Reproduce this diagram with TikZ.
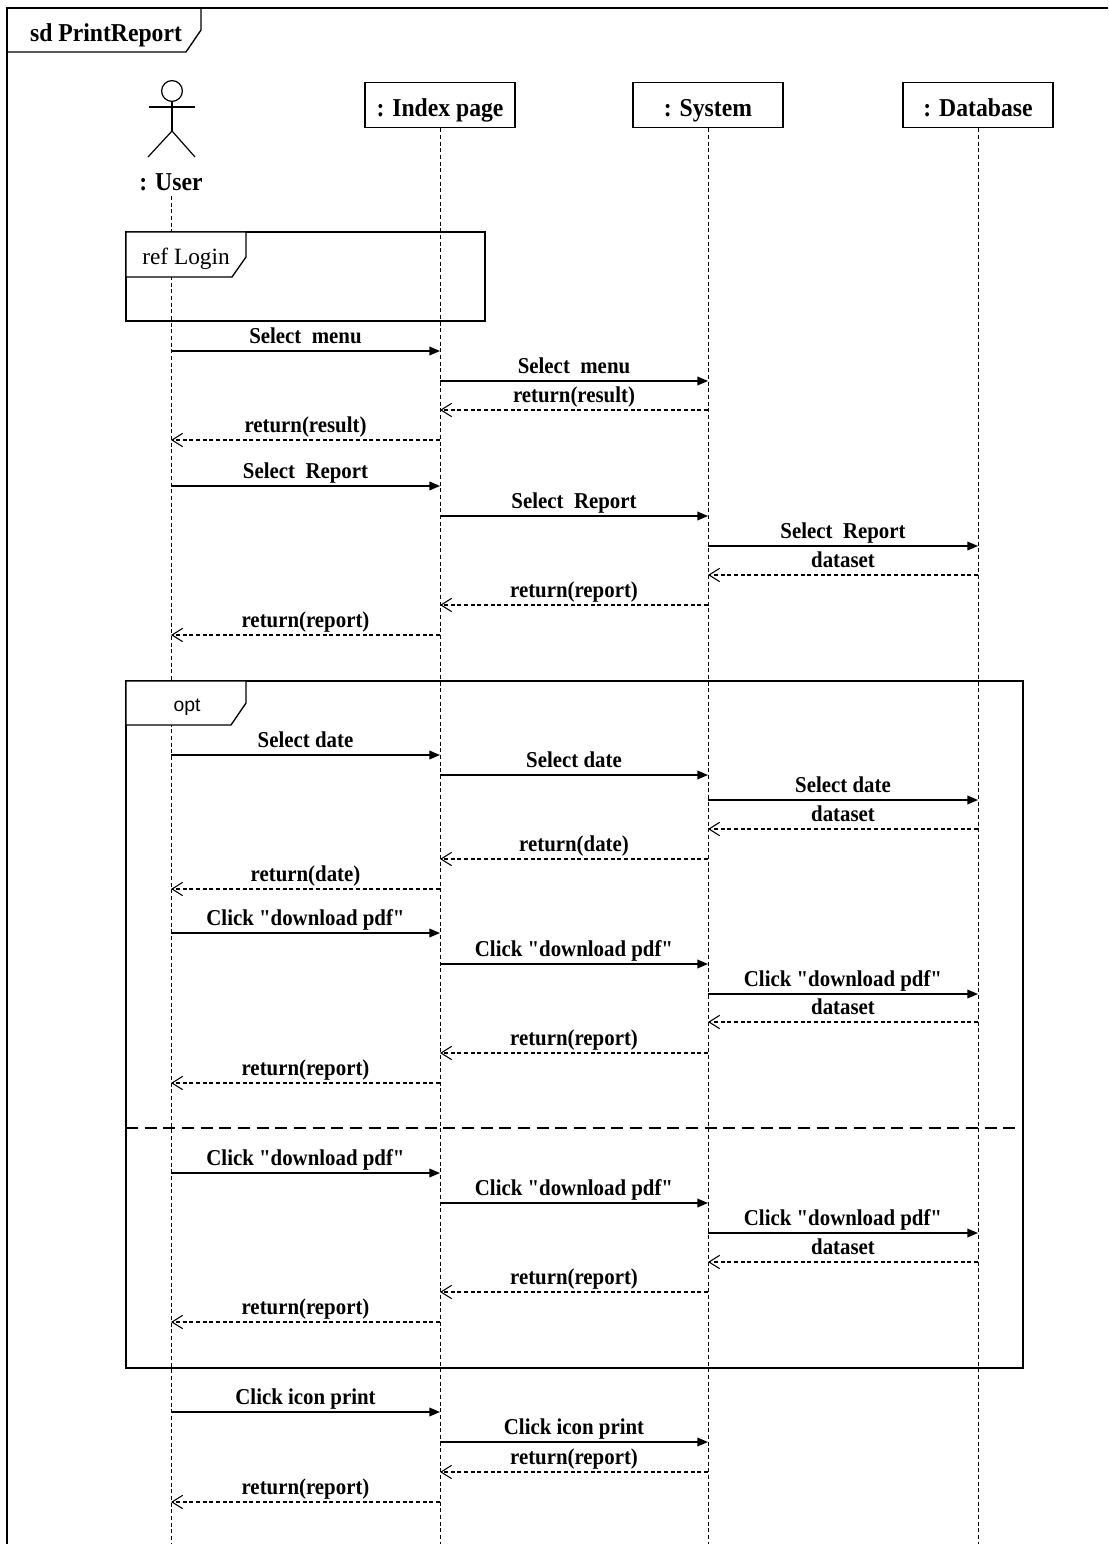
\documentclass[tikz,border=0pt]{standalone}
\usepackage{fontspec}
\setmainfont{Liberation Serif}[FakeStretch=0.92, Ligatures=TeXOff]
\newfontfamily\reffont{Liberation Serif}
\newfontfamily\optfont{Liberation Sans}
\usetikzlibrary{arrows.meta}

\tikzset{
  lifehead/.style={draw, line width=1.1pt, minimum width=112.5pt, minimum height=33.75pt,
    inner sep=0pt, text height=18pt, text depth=0pt, font=\fontsize{19.3}{21}\selectfont\bfseries},
  lifeline/.style={line width=0.7pt, dash pattern=on 3pt off 2pt},
  call/.style={line width=1.1pt, -{Triangle[length=8pt,width=6.5pt]}},
  reply/.style={line width=0.8pt, dash pattern=on 3pt off 2pt,
    -{Straight Barb[length=8pt,width=10pt,line width=0.8pt]}},
  msg/.style={above=1pt, inner sep=1pt, text height=11.5pt, text depth=3pt,
    font=\fontsize{17}{19}\selectfont\bfseries},
  frame/.style={line width=1pt},
}

\begin{document}
\begin{tikzpicture}[x=0.75pt, y=-0.75pt]
  \useasboundingbox (0,0) rectangle (1108,1544);

  % outer frame
  \draw [frame] (1108,8) -- (7,8) -- (7,1544);
  \draw [frame] (7,52) -- (186,52) -- (201,30) -- (201,8);
  \node [anchor=base, font=\fontsize{19.3}{21}\selectfont\bfseries] (title) at (106,42) {sd PrintReport};

  % actor
  \draw [line width=0.9pt] (172,91) circle [radius=7.8pt];
  \draw [line width=0.9pt] (172,101) -- (172,131);
  \draw [line width=0.9pt] (149,107) -- (195,107);
  \draw [line width=0.9pt] (148,157) -- (172,131) -- (195,157);
  \node [anchor=base, font=\fontsize{19.3}{21}\selectfont\bfseries] (user) at (171,191) {: User};

  % lifeline heads
  \node [lifehead] (index) at (440,105) {: Index page};
  \node [lifehead] (sys) at (708,105) {: System};
  \node [lifehead] (db) at (978,105) {: Database};

  \draw [lifeline] (user.south) -- (user |- 0,1544);
  \draw [lifeline] (index.south) -- (index |- 0,1544);
  \draw [lifeline] (sys.south) -- (sys |- 0,1544);
  \draw [lifeline] (db.south) -- (db |- 0,1544);

  % ref Login
  \draw [frame] (126,232) rectangle (485,321);
  \draw [frame, fill=white] (126,232) -- (246,232) -- (246,257) -- (232,277) -- (126,277) -- cycle;
  \node [anchor=base, font=\fontsize{17.5}{19}\reffont] (ref) at (186,265) {ref Login};

  % opt
  \draw [frame] (126,681) rectangle (1023,1368);
  \draw [frame, fill=white] (126,681) -- (246,681) -- (246,703) -- (231,725) -- (126,725) -- cycle;
  \node [anchor=base, font=\fontsize{14.5}{16}\optfont] (opt) at (187,711) {opt};
  \draw [line width=1.8pt, dash pattern=on 9pt off 5pt] (126,1128) -- (1015,1128);

  % calls
  \foreach \y/\a/\b/\t in {
    351/user/index/{Select\ \ menu},
    381/index/sys/{Select\ \ menu},
    486/user/index/{Select\ \ Report},
    516/index/sys/{Select\ \ Report},
    546/sys/db/{Select\ \ Report},
    755/user/index/{Select date},
    775/index/sys/{Select date},
    800/sys/db/{Select date},
    933/user/index/{Click "download pdf"},
    964/index/sys/{Click "download pdf"},
    994/sys/db/{Click "download pdf"},
    1173/user/index/{Click "download pdf"},
    1203/index/sys/{Click "download pdf"},
    1233/sys/db/{Click "download pdf"},
    1412/user/index/{Click icon print},
    1442/index/sys/{Click icon print}}
  {
    \coordinate (c\y-a) at (\a |- 0,\y);
    \coordinate (c\y-b) at (\b |- 0,\y);
    \draw [call] (c\y-a) -- node [msg] {\t} (c\y-b);
  }

  % replies
  \foreach \y/\a/\b/\t in {
    410/sys/index/{return(result)},
    440/index/user/{return(result)},
    575/db/sys/{dataset},
    605/sys/index/{return(report)},
    635/index/user/{return(report)},
    829/db/sys/{dataset},
    859/sys/index/{return(date)},
    889/index/user/{return(date)},
    1022/db/sys/{dataset},
    1053/sys/index/{return(report)},
    1083/index/user/{return(report)},
    1262/db/sys/{dataset},
    1292/sys/index/{return(report)},
    1322/index/user/{return(report)},
    1472/sys/index/{return(report)},
    1502/index/user/{return(report)}}
  {
    \coordinate (r\y-a) at (\a |- 0,\y);
    \coordinate (r\y-b) at (\b |- 0,\y);
    \draw [reply] (r\y-a) -- node [msg] {\t} (r\y-b);
  }
\end{tikzpicture}
\end{document}
